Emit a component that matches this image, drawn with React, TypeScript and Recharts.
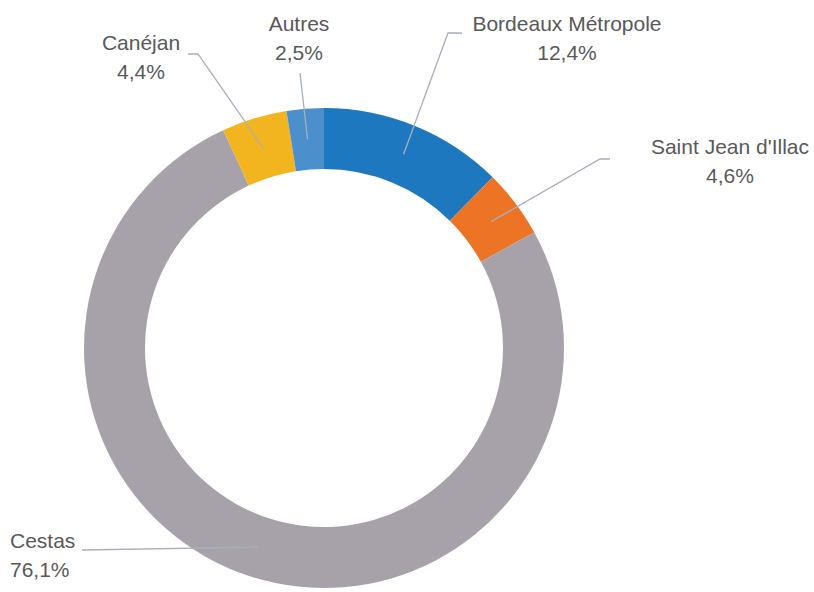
import { Cell, Pie, PieChart } from 'recharts';

const communes = ['Bordeaux Métropole', "Saint Jean d'Illac", 'Cestas', 'Canéjan', 'Autres'];
const shares = [12.4, 4.6, 76.1, 4.4, 2.5];
const sliceColors = ['#1E78C0', '#EC7424', '#A7A2AA', '#F3B51F', '#4B8FCD'];

const data = communes.map((name, i) => ({ name, value: shares[i] }));

// label placement, offsets from the pie centre
const labelLayout: Record<string, { path: [number, number][]; tx: number; ty: number; anchor: 'start' | 'middle' }> = {
  'Bordeaux Métropole': { path: [[124, -315], [138, -315]], tx: 243, ty: -317, anchor: 'middle' },
  "Saint Jean d'Illac": { path: [[276, -189], [286, -189]], tx: 406, ty: -194, anchor: 'middle' },
  Cestas: { path: [[-242, 202]], tx: -314, ty: 200, anchor: 'start' },
  Canéjan: { path: [[-126, -294], [-136, -294]], tx: -183, ty: -298, anchor: 'middle' },
  Autres: { path: [[-24, -275]], tx: -25, ty: -317, anchor: 'middle' },
};

const RAD = Math.PI / 180;
const fmt = (v: number) => v.toFixed(1).replace('.', ',') + '%';

function renderLabel(props: any) {
  const { cx, cy, midAngle, innerRadius, outerRadius, name, value } = props;
  const lay = labelLayout[name];
  if (!lay) return null;
  const r = (innerRadius + outerRadius) / 2;
  const sx = cx + r * Math.cos(-midAngle * RAD);
  const sy = cy + r * Math.sin(-midAngle * RAD);
  const pts = [[sx, sy], ...lay.path.map(([dx, dy]) => [cx + dx, cy + dy])];
  return (
    <g>
      <polyline
        points={pts.map((p) => p.join(',')).join(' ')}
        fill="none"
        stroke="#A7AFBA"
        strokeWidth={1.3}
      />
      <text
        x={cx + lay.tx}
        y={cy + lay.ty}
        textAnchor={lay.anchor}
        fill="#595959"
        fontSize={21}
        fontFamily="Liberation Sans, Arial, sans-serif"
      >
        <tspan x={cx + lay.tx}>{name}</tspan>
        <tspan x={cx + lay.tx} dy={29}>
          {fmt(value)}
        </tspan>
      </text>
    </g>
  );
}

export default function App() {
  return (
    <div style={{ position: 'absolute', left: 0, top: 0, width: 814, height: 592, background: '#fff' }}>
      <PieChart width={814} height={592} margin={{ top: 0, right: 0, bottom: 0, left: 0 }}>
        <Pie
          data={data}
          dataKey="value"
          nameKey="name"
          cx={324}
          cy={348}
          innerRadius={179}
          outerRadius={240}
          startAngle={90}
          endAngle={-270}
          stroke="none"
          label={renderLabel}
          labelLine={false}
          isAnimationActive={false}
        >
          {data.map((d, i) => (
            <Cell key={d.name} fill={sliceColors[i]} />
          ))}
        </Pie>
      </PieChart>
    </div>
  );
}
